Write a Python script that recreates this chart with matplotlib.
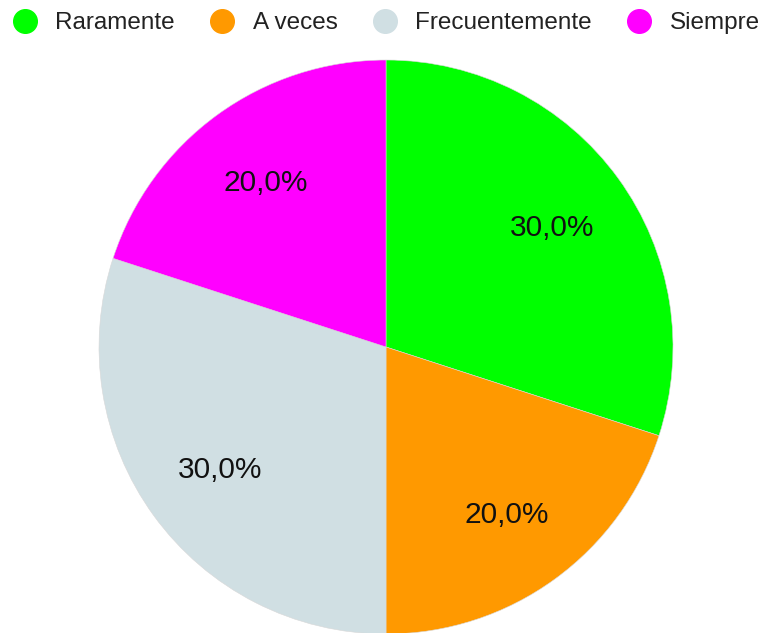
import matplotlib.pyplot as plt
from matplotlib.lines import Line2D

plt.rcParams['font.family'] = ['Liberation Sans', 'DejaVu Sans']

categories = ['Raramente', 'A veces', 'Frecuentemente', 'Siempre']
values = [30.0, 20.0, 30.0, 20.0]
colors = ['#00ff00', '#ff9900', '#d0dfe3', '#ff00ff']

fig = plt.figure(figsize=(7.68, 6.33), dpi=100)
ax = fig.add_axes([0, 0, 1, 1])

wedges, texts, autotexts = ax.pie(
    values, colors=colors, startangle=90, counterclock=False,
    center=(386, 286), radius=287, frame=True,
    autopct=lambda p: f'{p:.1f}%'.replace('.', ','), pctdistance=0.715,
    wedgeprops=dict(linewidth=0.4, edgecolor='#d8d8d8'),
    textprops=dict(fontsize=21.5, color='#111111'))
for t in autotexts:
    x, y = t.get_position()
    t.set_position((x, y - 2))
ax.set_xlim(0, 768)
ax.set_ylim(0, 633)
ax.set_aspect('equal')
ax.axis('off')

handles = [Line2D([], [], marker='o', linestyle='none', markersize=17,
                  markerfacecolor=c, markeredgecolor=c) for c in colors]
fig.legend(handles, categories, loc='center', bbox_to_anchor=(0.503, 1 - 23 / 633),
           ncol=4, frameon=False, fontsize=17.5, handlelength=1.0,
           handletextpad=0.75, columnspacing=1.45, labelcolor='#222222')

fig.savefig('out.png', dpi=100)
